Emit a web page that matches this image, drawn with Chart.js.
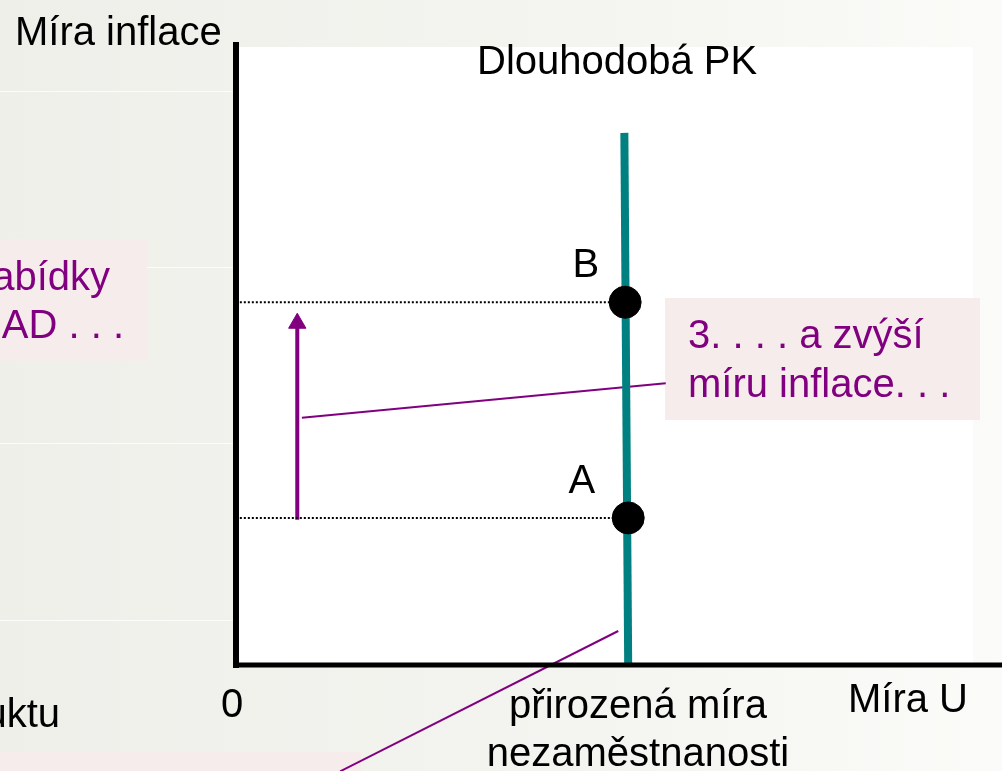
<!DOCTYPE html>
<html>
<head>
<meta charset="utf-8">
<script src="https://cdn.jsdelivr.net/npm/chart.js@4"></script>
<style>
  html, body { margin: 0; padding: 0; background: #f1f1ec; overflow: hidden; }
  #wrap { width: 1002px; height: 771px; position: relative; }
  #pkChart { display: block; }
</style>
</head>
<body>
<div id="wrap"><canvas id="pkChart"></canvas></div>
<script>
// unemployment rate (x) and inflation rate (y), arbitrary units
const pointLabels = ['B', 'A'];
const pointU = [5.08, 5.12];
const pointInfl = [5.87, 2.38];

// long-run Phillips curve (vertical at the natural rate)
const pkU = [5.12, 5.07];
const pkInfl = [0, 8.61];

// arrow showing the rise of inflation from A to B
const arrowU = [0.80, 0.80];
const arrowInfl = [2.35, 5.53];

// leader lines from the notes
const leader1U = [0.86, 5.61];
const leader1Infl = [4.00, 4.56];
const leader2U = [4.99, 1.36];
const leader2Infl = [0.55, -1.72];

const purple = '#800080';
const teal = '#008080';

function pts(xs, ys) {
  return xs.map((x, i) => ({ x: x, y: ys[i] }));
}

// slide background, white plot panel and the pink note boxes
const backdrop = {
  id: 'backdrop',
  beforeDraw(chart) {
    const { ctx, chartArea } = chart;
    const w = chart.width, h = chart.height;
    ctx.save();
    const g = ctx.createLinearGradient(0, 0, w, 0);
    g.addColorStop(0, '#efefea');
    g.addColorStop(0.6, '#f4f4f0');
    g.addColorStop(1, '#fbfbf9');
    ctx.fillStyle = g;
    ctx.fillRect(0, 0, w, h);
    ctx.strokeStyle = 'rgba(255,255,255,0.8)';
    ctx.lineWidth = 1;
    [91, 267, 443, 620].forEach(y => {
      ctx.beginPath();
      ctx.moveTo(0, y + 0.5);
      ctx.lineTo(chartArea.left - 3, y + 0.5);
      ctx.stroke();
    });
    ctx.fillStyle = '#ffffff';
    ctx.fillRect(chartArea.left, chartArea.top, chartArea.right - chartArea.left - 29, chartArea.bottom - chartArea.top);
    ctx.fillStyle = '#f7ecec';
    ctx.fillRect(0, 239, 147, 122);
    ctx.fillRect(665, 298, 315, 122);
    ctx.fillRect(0, 752, 361, 19);
    ctx.restore();
  }
};

// axes and the text of the slide
const overlay = {
  id: 'overlay',
  afterDatasetsDraw(chart) {
    const { ctx } = chart;
    const xs = chart.scales.x, ys = chart.scales.y;
    const x0 = xs.getPixelForValue(0), y0 = ys.getPixelForValue(0);
    ctx.save();
    ctx.strokeStyle = '#000';
    ctx.lineCap = 'butt';
    ctx.lineWidth = 6;
    ctx.beginPath();
    ctx.moveTo(x0, 42);
    ctx.lineTo(x0, y0 + 3);
    ctx.stroke();
    ctx.lineWidth = 5;
    ctx.beginPath();
    ctx.moveTo(x0 - 3, y0);
    ctx.lineTo(xs.right, y0);
    ctx.stroke();

    ctx.font = '40px "Liberation Sans", Arial, sans-serif';
    ctx.textBaseline = 'alphabetic';
    ctx.fillStyle = '#000';
    ctx.textAlign = 'left';
    ctx.fillText('Míra inflace', 15, 45);
    ctx.fillText('Dlouhodobá PK', 477, 74);
    ctx.fillText('Míra U', 848, 712);
    const labelDx = [-26, -33];
    pointLabels.forEach((lab, i) => {
      const px = xs.getPixelForValue(pointU[i]);
      const py = ys.getPixelForValue(pointInfl[i]);
      ctx.textAlign = 'right';
      ctx.fillText(lab, px + labelDx[i], py - 25);
    });
    ctx.textAlign = 'center';
    ctx.fillText('0', x0 - 4, 717);
    ctx.fillText('přirozená míra', 638, 718);
    ctx.fillText('nezaměstnanosti', 638, 766);
    ctx.textAlign = 'right';
    ctx.fillText('uktu', 60, 727);

    ctx.fillStyle = purple;
    ctx.textAlign = 'left';
    ctx.fillText('3. . . . a zvýší', 688, 348);
    ctx.fillText('míru inflace. . .', 688, 397);
    ctx.textAlign = 'right';
    ctx.fillText('abídky', 110, 290);
    ctx.fillText('AD . . .', 124, 338);
    ctx.restore();
  }
};

const ctx = document.getElementById('pkChart').getContext('2d');
const pkChart = new Chart(ctx, {
  type: 'scatter',
  data: {
    datasets: [
      {
        label: 'A, B',
        data: pts(pointU, pointInfl),
        pointRadius: 16,
        pointHoverRadius: 16,
        backgroundColor: '#000',
        borderColor: '#000',
        order: 0
      },
      {
        label: 'Dlouhodobá PK',
        data: pts(pkU, pkInfl),
        showLine: true,
        borderColor: teal,
        borderWidth: 8,
        pointRadius: 0,
        order: 1
      },
      {
        label: 'B level',
        data: [{ x: 0.05, y: pointInfl[0] }, { x: pointU[0], y: pointInfl[0] }],
        showLine: true,
        borderColor: '#000',
        borderWidth: 2,
        borderDash: [2, 2],
        pointRadius: 0,
        order: 2
      },
      {
        label: 'A level',
        data: [{ x: 0.05, y: pointInfl[1] }, { x: pointU[1], y: pointInfl[1] }],
        showLine: true,
        borderColor: '#000',
        borderWidth: 2,
        borderDash: [2, 2],
        pointRadius: 0,
        order: 2
      },
      {
        label: 'arrow',
        data: pts(arrowU, arrowInfl),
        showLine: true,
        borderColor: purple,
        borderWidth: 4,
        pointStyle: 'triangle',
        pointRadius: [0, 10],
        pointBackgroundColor: purple,
        pointBorderColor: purple,
        pointBorderWidth: 1,
        order: 2
      },
      {
        label: 'leader 1',
        data: pts(leader1U, leader1Infl),
        showLine: true,
        borderColor: purple,
        borderWidth: 2,
        pointRadius: 0,
        order: 2
      },
      {
        label: 'leader 2',
        data: pts(leader2U, leader2Infl),
        showLine: true,
        borderColor: purple,
        borderWidth: 2,
        pointRadius: 0,
        clip: false,
        order: 2
      }
    ]
  },
  options: {
    responsive: true,
    maintainAspectRatio: false,
    animation: false,
    layout: { autoPadding: false, padding: { left: 236, top: 47, right: 0, bottom: 106 } },
    scales: {
      x: { type: 'linear', min: 0, max: 10, display: false },
      y: { type: 'linear', min: 0, max: 10, display: false }
    },
    plugins: {
      legend: { display: false },
      tooltip: { enabled: false }
    }
  },
  plugins: [backdrop, overlay]
});
</script>
</body>
</html>
